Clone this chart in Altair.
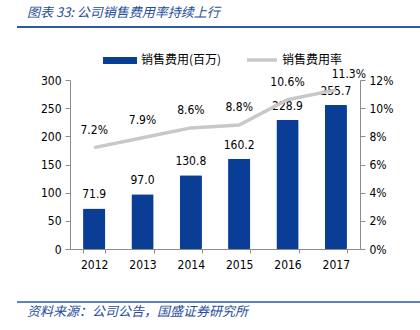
import altair as alt
import pandas as pd

years = ["2012", "2013", "2014", "2015", "2016", "2017"]
expense = [71.9, 97.0, 130.8, 160.2, 228.9, 255.7]
ratio = [7.2, 7.9, 8.6, 8.8, 10.6, 11.3]
expense_labels = ["71.9", "97.0", "130.8", "160.2", "228.9", "255.7"]
ratio_labels = ["7.2%", "7.9%", "8.6%", "8.8%", "10.6%", "11.3%"]

title_text = "图表 33:  公司销售费用率持续上行"
source_text = "资料来源：公司公告，国盛证券研究所"
legend_bar = "销售费用(百万)"
legend_line = "销售费用率"

BLUE = "#0a3d96"
GRAY = "#c8c8c8"
AXIS = "#8c8c8c"
NUM_FONT = "DejaVu Sans Condensed, DejaVu Sans"
CJK_FONT = "Noto Sans CJK SC"

df = pd.DataFrame({
    "year": years,
    "expense": expense,
    "ratio": [r / 100 for r in ratio],
    "elab": expense_labels,
    "rlab": ratio_labels,
    "last": [False] * 5 + [True],
})

base = alt.Chart(df)
xenc = alt.X("year:N", title=None, sort=years,
             scale=alt.Scale(paddingInner=0.54, paddingOuter=0.27),
             axis=alt.Axis(labelAngle=0, labelFont=NUM_FONT, labelFontSize=12,
                           labelColor="#000", domainColor=AXIS, tickColor=AXIS,
                           tickBand="extent", tickSize=4, labelPadding=6))

yleft = alt.Y("expense:Q", title=None,
              scale=alt.Scale(domain=[0, 300]),
              axis=alt.Axis(values=[0, 50, 100, 150, 200, 250, 300], grid=False,
                            labelFont=NUM_FONT, labelFontSize=12, labelColor="#000",
                            domainColor=AXIS, tickColor=AXIS, tickSize=5, labelPadding=4))

yright = alt.Y("ratio:Q", title=None,
               scale=alt.Scale(domain=[0, 0.12]),
               axis=alt.Axis(orient="right", format=".0%",
                             values=[0, 0.02, 0.04, 0.06, 0.08, 0.10, 0.12], grid=False,
                             labelFont=NUM_FONT, labelFontSize=12, labelColor="#000",
                             domainColor=AXIS, tickColor=AXIS, tickSize=5, labelPadding=4))

bars = base.mark_bar(color=BLUE, cornerRadius=1).encode(x=xenc, y=yleft)
bar_text = base.mark_text(baseline="bottom", dy=-7, font=NUM_FONT, fontSize=12,
                          color="#000").encode(x=xenc, y=yleft, text="elab:N")
left_layer = alt.layer(bars, bar_text)

line = base.mark_line(color=GRAY, strokeWidth=3.5).encode(x=xenc, y=yright)
line_text = base.mark_text(baseline="bottom", dy=-11, font=NUM_FONT, fontSize=12,
                           color="#000").transform_filter("!datum.last").encode(
    x=xenc, y=yright, text="rlab:N")
line_text_last = base.mark_text(baseline="bottom", dy=-9, dx=13, font=NUM_FONT,
                                fontSize=12, color="#000").transform_filter(
    "datum.last").encode(x=xenc, y=yright, text="rlab:N")
right_layer = alt.layer(line, line_text, line_text_last)

one = alt.Chart(pd.DataFrame({"k": [0]}))

title = one.mark_text(align="left", baseline="middle", font=CJK_FONT, fontSize=13,
                      fontStyle="italic", color="#1f4e9c").encode(
    x=alt.value(-43), y=alt.value(-67), text=alt.value(title_text))
top_rule = one.mark_rule(color="#2a5aa8", strokeWidth=2).encode(
    x=alt.value(-53), x2=alt.value(350), y=alt.value(-53))
bottom_rule = one.mark_rule(color="#2a5aa8", strokeWidth=1.5).encode(
    x=alt.value(-53), x2=alt.value(350), y=alt.value(222))
source = one.mark_text(align="left", baseline="middle", font=CJK_FONT, fontSize=13,
                       fontStyle="italic", color="#1f4e9c").encode(
    x=alt.value(-43), y=alt.value(232), text=alt.value(source_text))

leg_rect = one.mark_rect(color=BLUE).encode(
    x=alt.value(33), x2=alt.value(67), y=alt.value(-23), y2=alt.value(-16))
leg_rect_text = one.mark_text(align="left", baseline="middle", font=CJK_FONT,
                              fontSize=12, color="#000").encode(
    x=alt.value(71), y=alt.value(-20), text=alt.value(legend_bar))
leg_line = one.mark_rule(color=GRAY, strokeWidth=3.5).encode(
    x=alt.value(177), x2=alt.value(207), y=alt.value(-20))
leg_line_text = one.mark_text(align="left", baseline="middle", font=CJK_FONT,
                              fontSize=12, color="#000").encode(
    x=alt.value(212), y=alt.value(-20), text=alt.value(legend_line))

chart = alt.layer(
    left_layer, right_layer,
    title, top_rule, bottom_rule, source,
    leg_rect, leg_rect_text, leg_line, leg_line_text,
).resolve_scale(y="independent").properties(
    width=290, height=169,
    autosize=alt.AutoSizeParams(type="none"),
    padding={"left": 70, "top": 80, "right": 60, "bottom": 81},
    background="white",
).configure_view(stroke=None)

chart.save("out.html", embed_options={"renderer": "svg", "actions": False})
